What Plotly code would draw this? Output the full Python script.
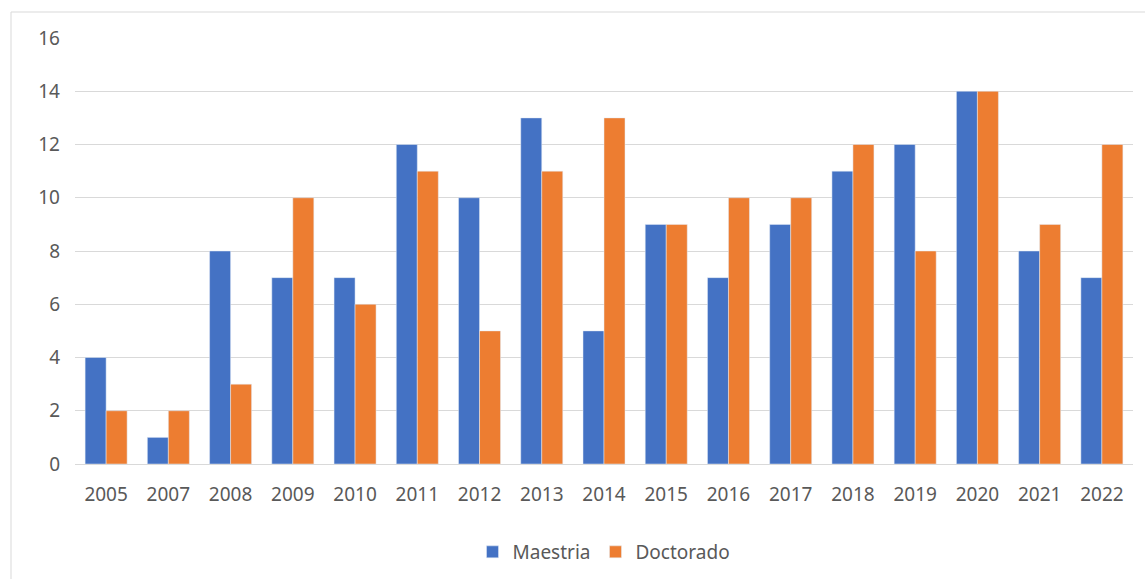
import plotly.graph_objects as go

years = ["2005", "2007", "2008", "2009", "2010", "2011", "2012", "2013", "2014",
         "2015", "2016", "2017", "2018", "2019", "2020", "2021", "2022"]
maestria = [4, 1, 8, 7, 7, 12, 10, 13, 5, 9, 7, 9, 11, 12, 14, 8, 7]
doctorado = [2, 2, 3, 10, 6, 11, 5, 11, 13, 9, 10, 10, 12, 8, 14, 9, 12]

W, H = 1145, 579
L, R, T, B = 75, 12, 38, 115
pw, ph = W - L - R, H - T - B

def px(x):
    return (x - L) / pw

def py(y):
    return (H - B - y) / ph

font = "Noto Sans"
fig = go.Figure()
fig.add_trace(go.Bar(name="Maestria", x=years, y=maestria, marker_color="#4472C4"))
fig.add_trace(go.Bar(name="Doctorado", x=years, y=doctorado, marker_color="#ED7D31"))

fig.update_layout(
    width=W, height=H,
    margin=dict(l=L, r=R, t=T, b=B, autoexpand=False),
    barmode="group", bargap=0.325, bargroupgap=0,
    plot_bgcolor="white", paper_bgcolor="white",
    font=dict(family=font, size=19, color="#595959"),
    showlegend=True,
    legend=dict(orientation="h", x=0.5, xanchor="center", y=py(552), yanchor="middle",
                font=dict(size=19, color="#595959"), itemwidth=30),
    xaxis=dict(showgrid=False, showline=True, linecolor="#D9D9D9", linewidth=1,
               ticks="", tickfont=dict(size=19, color="#595959"), ticklabelstandoff=13),
    yaxis=dict(range=[0, 16], dtick=2, showgrid=True, gridcolor="#D9D9D9", gridwidth=1,
               zeroline=False, showline=False, ticks="",
               tickfont=dict(size=19, color="#595959"), ticklabelstandoff=14),
    shapes=[dict(type="rect", xref="paper", yref="paper",
                 x0=px(11), x1=px(1160), y0=py(600), y1=py(12),
                 line=dict(color="#D9D9D9", width=1), fillcolor="rgba(0,0,0,0)", layer="below")],
)

fig.write_html("out.html", config={"displayModeBar": False},
               post_script="document.body.style.margin='0';document.body.style.padding='0';")
